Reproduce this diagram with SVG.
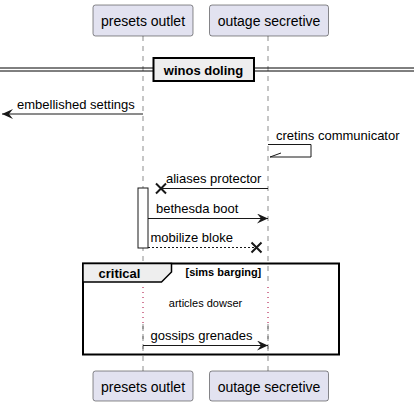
<svg xmlns="http://www.w3.org/2000/svg" width="414" height="406" viewBox="0 0 414 406">
<style>
.part{fill:#E2E2F0;stroke:#181818;stroke-width:0.5}
.pt{font-family:"Liberation Sans",Arial,sans-serif;font-size:14px;fill:#000}
.life{stroke:#181818;stroke-width:0.5;stroke-dasharray:5,5;fill:none}
.msg{stroke:#181818;stroke-width:1;fill:none}
.mt{font-family:"Liberation Sans",Arial,sans-serif;font-size:13px;fill:#000}
.bold{font-weight:bold}
.dly{stroke:#A80036;stroke-width:1;stroke-dasharray:1,4;fill:none}
</style>
<defs>
<marker id="ah" markerWidth="12" markerHeight="10" refX="11" refY="5" orient="auto" markerUnits="userSpaceOnUse">
<path d="M0,0 L11,5 L0,10 L4,5 Z" fill="#181818"/>
</marker>
</defs>
<g id="lifelines">
<line class="life" x1="143" y1="36" x2="143" y2="371"/>
<line class="life" x1="268" y1="36" x2="268" y2="371"/>
</g>
<g id="divider">
<line x1="0" y1="68" x2="414" y2="68" stroke="#000" stroke-width="1"/>
<line x1="0" y1="71" x2="414" y2="71" stroke="#000" stroke-width="1"/>
<rect x="153.5" y="58" width="100.5" height="23" fill="#EEEEEE" stroke="#000" stroke-width="2"/>
<text class="mt bold" x="203.5" y="74.5" text-anchor="middle">winos doling</text>
</g>
<g id="p1">
<rect class="part" x="93" y="5" width="100" height="31" rx="2.5"/>
<text class="pt" x="143" y="26" text-anchor="middle">presets outlet</text>
</g>
<g id="p2">
<rect class="part" x="209.5" y="5" width="119" height="31" rx="2.5"/>
<text class="pt" x="269" y="26" text-anchor="middle">outage secretive</text>
</g>
<g id="p1b">
<rect class="part" x="93" y="371" width="100" height="30" rx="2.5"/>
<text class="pt" x="143" y="391.5" text-anchor="middle">presets outlet</text>
</g>
<g id="p2b">
<rect class="part" x="209.5" y="371" width="119" height="30" rx="2.5"/>
<text class="pt" x="269" y="391.5" text-anchor="middle">outage secretive</text>
</g>
<g id="activation">
<rect x="138" y="188" width="10" height="60" fill="#fff" stroke="#181818" stroke-width="1"/>
</g>
<g id="frame">
<rect x="83" y="263.5" width="256" height="91" fill="none" stroke="#000" stroke-width="2"/>
<path d="M83,263.5 L171.5,263.5 L171.5,272 L161.5,282 L83,282 Z" fill="#EEEEEE" stroke="#000" stroke-width="1.5"/>
<text class="mt bold" x="98.5" y="277.5">critical</text>
<text class="bold" x="185.5" y="276" font-family="Liberation Sans,Arial,sans-serif" font-size="11">[sims barging]</text>
</g>
<g id="connectors">
<line class="msg" x1="143" y1="114" x2="2" y2="114" marker-end="url(#ah)"/>
<text class="mt" x="17" y="108.5">embellished settings</text>
<path class="msg" d="M268,144.5 L311,144.5 L311,157 L270,157"/>
<line class="msg" x1="270" y1="157" x2="281" y2="153"/>
<text class="mt" x="276" y="139.5">cretins communicator</text>
<line class="msg" x1="268" y1="188.5" x2="161" y2="188.5"/>
<path d="M156,183.5 L166,193.5 M166,183.5 L156,193.5" stroke="#181818" stroke-width="2" fill="none"/>
<text class="mt" x="166" y="183">aliases protector</text>
<line class="msg" x1="148" y1="218.5" x2="268" y2="218.5" marker-end="url(#ah)"/>
<text class="mt" x="156" y="212.5">bethesda boot</text>
<line class="msg" x1="148" y1="247.5" x2="256.5" y2="247.5" stroke-dasharray="2,2"/>
<path d="M251.5,242.5 L261.5,252.5 M261.5,242.5 L251.5,252.5" stroke="#181818" stroke-width="2" fill="none"/>
<text class="mt" x="150.5" y="241.5">mobilize bloke</text>
<rect x="138" y="285" width="140" height="40" fill="#fff" stroke="none"/>
<line class="life" x1="143" y1="324" x2="143" y2="354"/>
<line class="life" x1="268" y1="324" x2="268" y2="354"/>
<line class="dly" x1="143" y1="287" x2="143" y2="323"/>
<line class="dly" x1="268" y1="287" x2="268" y2="323"/>
<text x="205.5" y="306.5" text-anchor="middle" font-family="Liberation Sans,Arial,sans-serif" font-size="11">articles dowser</text>
<line class="msg" x1="143" y1="345.5" x2="268" y2="345.5" marker-end="url(#ah)"/>
<text class="mt" x="150.5" y="340">gossips grenades</text>
</g>
</svg>
